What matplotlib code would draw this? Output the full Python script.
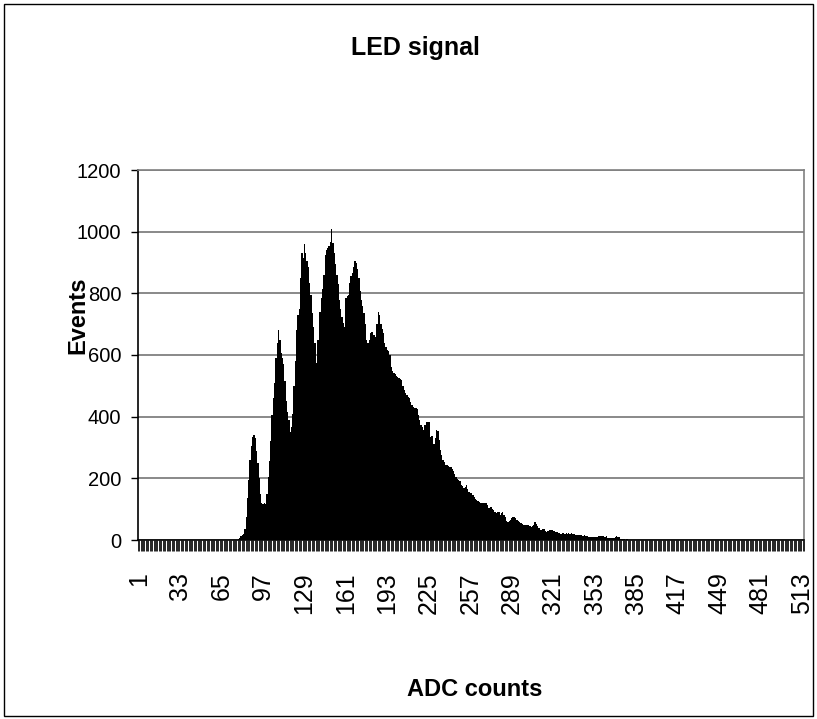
import matplotlib
matplotlib.use("Agg")
import matplotlib.pyplot as plt
from matplotlib import font_manager
from matplotlib.patches import Rectangle
from matplotlib.ticker import FixedLocator

# ---------------- data ----------------
n_channels = 514
channels = list(range(1, n_channels + 1))
signal_start = 78  # first channel with counts
signal_counts = [
    4, 8, 12, 15, 20, 35, 75, 135, 195, 260, 305, 335,
    340, 330, 290, 250, 200, 150, 120, 118, 120, 118,
    150, 205, 255, 320, 405, 460, 510, 590, 640, 680,
    650, 605, 590, 570, 515, 450, 415, 389, 350, 365,
    410, 500, 580, 680, 730, 750, 850, 930, 915, 960,
    930, 905, 885, 835, 795, 735, 690, 640, 575, 650,
    650, 740, 785, 815, 860, 925, 940, 946, 955, 965,
    1010, 962, 930, 895, 860, 830, 780, 750, 724, 705,
    690, 785, 790, 795, 835, 855, 865, 885, 905, 897,
    880, 850, 806, 780, 760, 735, 700, 649, 640, 650,
    670, 675, 665, 665, 660, 700, 739, 730, 700, 685,
    670, 640, 625, 615, 612, 600, 560, 548, 542, 538,
    531, 528, 525, 522, 519, 500, 486, 478, 470, 465,
    459, 448, 438, 430, 427, 427, 425, 405, 390, 373,
    365, 357, 372, 384, 384, 382, 335, 337, 336, 310,
    330, 357, 352, 325, 292, 276, 261, 252, 243, 242,
    240, 238, 236, 231, 225, 215, 205, 199, 196, 190,
    180, 174, 169, 172, 178, 165, 156, 153, 151, 145,
    139, 134, 130, 127, 124, 121, 120, 120, 119, 119,
    113, 105, 104, 106, 102, 97, 90, 86, 90, 92,
    82, 86, 92, 80, 74, 63, 59, 63, 66, 72,
    76, 76, 72, 65, 62, 59, 56, 52, 49, 49,
    49, 48, 49, 45, 43, 46, 49, 57, 52, 46,
    38, 34, 32, 36, 37, 30, 27, 30, 32, 32,
    31, 30, 28, 27, 25, 22, 22, 21, 22, 22,
    20, 22, 21, 22, 20, 22, 19, 18, 16, 16,
    17, 15, 16, 16, 14, 16, 14, 12, 11, 11,
    10, 11, 11, 10, 11, 9, 13, 13, 12, 13,
    12, 10, 12, 8, 6, 6, 5, 6, 7, 11,
    12, 11, 10, 3, 2, 3, 2, 1, 2, 1,
    1, 1, 0, 1, 0, 0,
]
events = [0] * n_channels
for k, v in enumerate(signal_counts):
    events[signal_start - 1 + k] = v

x_tick_labels = [str(c) for c in range(1, n_channels + 1, 32)]
y_ticks = [0, 200, 400, 600, 800, 1000, 1200]

# ---------------- fonts ----------------
names = {f.name for f in font_manager.fontManager.ttflist}
fam = "Liberation Sans Narrow" if "Liberation Sans Narrow" in names else "Liberation Sans"
plt.rcParams["font.family"] = [fam, "DejaVu Sans"]

# ---------------- figure ----------------
fig = plt.figure(figsize=(8.17, 7.19), dpi=100)
fig.patch.set_facecolor("white")
fig.patches.append(Rectangle((4 / 817, 3 / 719), 809 / 817, 712 / 719,
                             transform=fig.transFigure, fill=False,
                             edgecolor="black", linewidth=1.0))

ax = fig.add_axes([138 / 817, 1 - 540 / 719, 666 / 817, 370 / 719])
ax.bar(channels, events, width=1.0, color="black", linewidth=0, antialiased=False)

ax.set_xlim(0.5, n_channels + 0.5)
ax.set_ylim(0, 1200)

# y axis
ax.set_yticks(y_ticks)
ax.set_yticklabels([str(v) for v in y_ticks])
ax.yaxis.grid(True, color="#808080", linewidth=1.3)
ax.set_axisbelow(True)
ax.tick_params(axis="y", direction="out", length=5, width=1, color="black",
               labelsize=14.5, pad=7)

# x axis: one tick mark per channel boundary, labels every 32 channels
label_pos = list(range(1, n_channels + 1, 32))
ax.xaxis.set_major_locator(FixedLocator(label_pos))
ax.set_xticklabels(x_tick_labels, rotation=90, va="top", ha="center")
ax.xaxis.set_minor_locator(FixedLocator([c + 0.5 for c in range(0, n_channels + 1)]))
ax.tick_params(axis="x", which="major", length=0, labelsize=18, pad=23)
ax.tick_params(axis="x", which="minor", direction="out", length=8, width=0.6,
               color="black")

for s in ["left", "bottom"]:
    ax.spines[s].set_color("black")
    ax.spines[s].set_linewidth(1.2)
for s in ["top", "right"]:
    ax.spines[s].set_color("#808080")
    ax.spines[s].set_linewidth(1.2)

ax.set_title("LED signal", fontsize=18, fontweight="bold",
             x=(415 - 138) / 666, y=(540 - 56) / 370, va="center")
ax.set_xlabel("ADC counts", fontsize=17, fontweight="bold", va="center")
ax.xaxis.set_label_coords((475 - 138) / 666, (540 - 690) / 370)
ax.set_ylabel("Events", fontsize=17, fontweight="bold", va="center")
ax.yaxis.set_label_coords((78 - 138) / 666, (540 - 315) / 370)

fig.savefig("out.png", dpi=100, facecolor="white")
